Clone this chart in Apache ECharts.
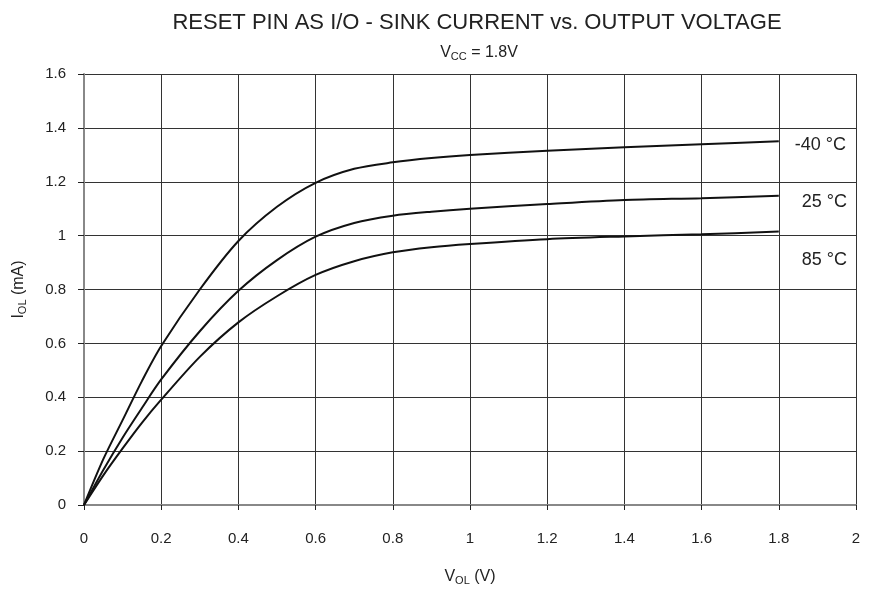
<!DOCTYPE html>
<html>
<head>
<meta charset="utf-8">
<script src="https://cdn.jsdelivr.net/npm/echarts@6/dist/echarts.min.js"></script>
<style>
  html, body { margin: 0; padding: 0; background: #fff; }
  #chart { width: 871px; height: 590px; }
</style>
</head>
<body>
<div id="chart"></div>
<script>
// values (V_OL in V, I_OL in mA)
const vol = [0, 0.05, 0.1, 0.15, 0.2, 0.3, 0.4, 0.5, 0.6, 0.7, 0.8, 0.9, 1.0, 1.2, 1.4, 1.6, 1.8]
const iMinus40 = [0, 0.17, 0.315, 0.46, 0.59, 0.8, 0.98, 1.107, 1.196, 1.248, 1.272, 1.288, 1.299, 1.315, 1.328, 1.339, 1.35]
const i25 = [0, 0.13, 0.25, 0.36, 0.466, 0.645, 0.795, 0.909, 0.996, 1.047, 1.074, 1.089, 1.1, 1.117, 1.132, 1.139, 1.148]
const i85 = [0, 0.11, 0.21, 0.305, 0.391, 0.55, 0.678, 0.775, 0.854, 0.905, 0.938, 0.957, 0.969, 0.987, 0.997, 1.005, 1.015]
const seriesNames = ['-40 °C', '25 °C', '85 °C']
const labelOffsets = [[8, 4], [15, 6], [15, 28]]

const pairs = arr => vol.map((v, i) => [v, arr[i]])
const font = 'Liberation Sans, Arial, sans-serif'
const ink = '#222'
const subRich = {
  m: { fontSize: 16, color: ink, fontFamily: font },
  s: { fontSize: 11, color: ink, fontFamily: font, padding: [7, 0, 0, 0] }
}

const chart = echarts.init(document.getElementById('chart'))

const option = {
  backgroundColor: '#fff',
  animation: false,
  textStyle: { fontFamily: font },
  title: [
    {
      text: 'RESET PIN AS I/O - SINK CURRENT vs. OUTPUT VOLTAGE',
      left: 472,
      top: 7,
      textAlign: 'center',
      textStyle: { fontSize: 22, fontWeight: 'normal', color: ink, fontFamily: font }
    },
    {
      text: '{m|V}{s|CC}{m| = 1.8V}',
      left: 474,
      top: 39,
      textAlign: 'center',
      textStyle: { fontWeight: 'normal', rich: subRich }
    }
  ],
  grid: { left: 84, right: 15, top: 74, bottom: 85, outerBoundsMode: 'none', containLabel: false },
  xAxis: {
    type: 'value',
    min: 0,
    max: 2,
    interval: 0.2,
    name: '{m|V}{s|OL}{m| (V)}',
    nameLocation: 'middle',
    nameGap: 63,
    nameTextStyle: { rich: subRich },
    axisLine: { show: true, lineStyle: { color: '#888', width: 2 } },
    axisTick: { show: true, length: 5, lineStyle: { color: ink } },
    axisLabel: { margin: 26, fontSize: 15, color: ink, formatter: v => String(Math.round(v * 10) / 10) },
    splitLine: { show: true, lineStyle: { color: '#333', width: 1 } }
  },
  yAxis: {
    type: 'value',
    min: 0,
    max: 1.6,
    interval: 0.2,
    name: '{m|I}{s|OL}{m| (mA)}',
    nameLocation: 'middle',
    nameGap: 56,
    nameRotate: 90,
    nameTextStyle: { rich: subRich },
    axisLine: { show: true, lineStyle: { color: '#888', width: 2 } },
    axisTick: { show: true, length: 6, lineStyle: { color: ink } },
    axisLabel: { margin: 18, fontSize: 15, color: ink, formatter: v => String(Math.round(v * 10) / 10) },
    splitLine: { show: true, lineStyle: { color: '#333', width: 1 } }
  },
  series: [iMinus40, i25, i85].map((arr, k) => ({
    name: seriesNames[k],
    type: 'line',
    data: pairs(arr),
    smooth: 0.3,
    showSymbol: false,
    lineStyle: { color: '#111', width: 2 },
    endLabel: {
      show: true,
      formatter: seriesNames[k],
      offset: labelOffsets[k],
      fontSize: 18,
      color: ink,
      fontFamily: font
    }
  }))
}

option && chart.setOption(option)
</script>
</body>
</html>
